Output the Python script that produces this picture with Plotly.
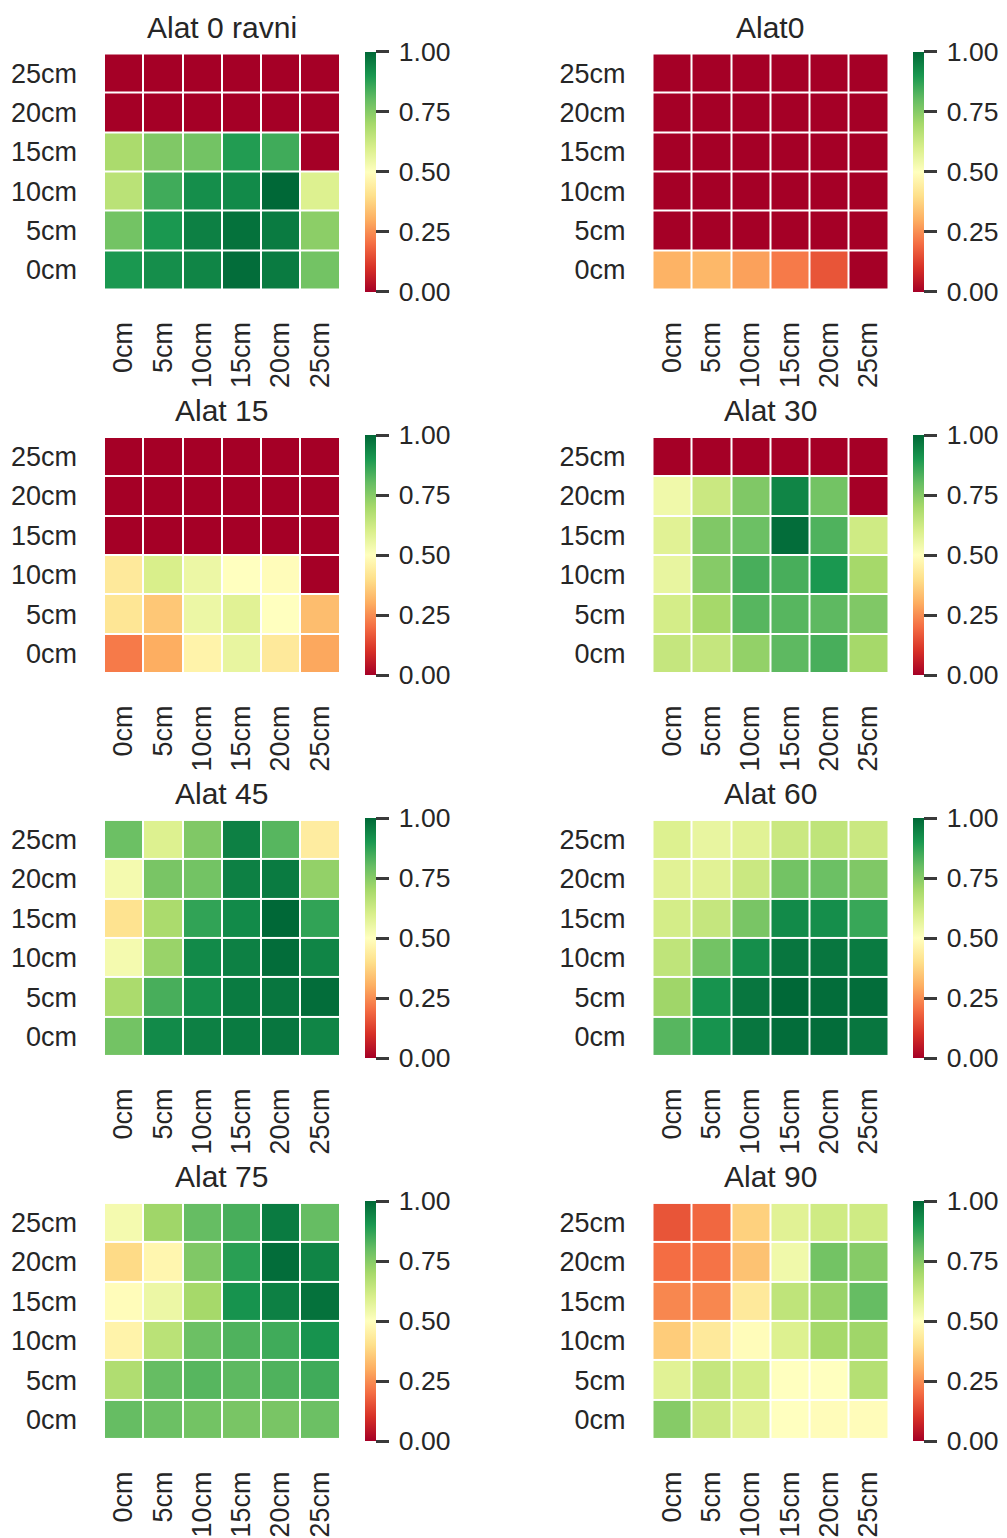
import plotly.graph_objects as go

# the page body keeps its 8px margin, so the figure is drawn 8px smaller
# and every pixel position below is shifted by it
OFF = 8
W, H = 1007 - OFF, 1538 - OFF

depths = ["0cm", "5cm", "10cm", "15cm", "20cm", "25cm"]

# rows follow depths (0cm first), columns follow depths too
alat_0_ravni = [
    [0.90, 0.92, 0.94, 0.99, 0.96, 0.78],
    [0.78, 0.90, 0.95, 0.98, 0.96, 0.74],
    [0.66, 0.85, 0.92, 0.93, 1.00, 0.59],
    [0.69, 0.76, 0.78, 0.89, 0.85, 0.00],
    [0.00, 0.00, 0.00, 0.00, 0.00, 0.00],
    [0.00, 0.00, 0.00, 0.00, 0.00, 0.00],
]
alat0 = [
    [0.31, 0.32, 0.28, 0.22, 0.16, 0.00],
    [0.00, 0.00, 0.00, 0.00, 0.00, 0.00],
    [0.00, 0.00, 0.00, 0.00, 0.00, 0.00],
    [0.00, 0.00, 0.00, 0.00, 0.00, 0.00],
    [0.00, 0.00, 0.00, 0.00, 0.00, 0.00],
    [0.00, 0.00, 0.00, 0.00, 0.00, 0.00],
]
alat_15 = [
    [0.22, 0.30, 0.46, 0.56, 0.43, 0.29],
    [0.42, 0.35, 0.55, 0.58, 0.50, 0.33],
    [0.43, 0.60, 0.55, 0.50, 0.49, 0.00],
    [0.00, 0.00, 0.00, 0.00, 0.00, 0.00],
    [0.00, 0.00, 0.00, 0.00, 0.00, 0.00],
    [0.00, 0.00, 0.00, 0.00, 0.00, 0.00],
]
alat_30 = [
    [0.64, 0.64, 0.73, 0.81, 0.84, 0.70],
    [0.61, 0.70, 0.82, 0.82, 0.81, 0.76],
    [0.56, 0.75, 0.84, 0.84, 0.90, 0.70],
    [0.58, 0.76, 0.79, 0.99, 0.83, 0.62],
    [0.54, 0.63, 0.76, 0.94, 0.78, 0.00],
    [0.00, 0.00, 0.00, 0.00, 0.00, 0.00],
]
alat_45 = [
    [0.78, 0.93, 0.95, 0.96, 0.97, 0.94],
    [0.69, 0.84, 0.92, 0.96, 0.97, 0.99],
    [0.53, 0.72, 0.93, 0.95, 0.99, 0.94],
    [0.41, 0.69, 0.87, 0.93, 1.00, 0.87],
    [0.53, 0.77, 0.78, 0.95, 0.96, 0.73],
    [0.79, 0.59, 0.76, 0.95, 0.82, 0.44],
]
alat_60 = [
    [0.82, 0.91, 0.97, 0.99, 0.99, 0.97],
    [0.71, 0.91, 0.97, 1.00, 0.99, 0.99],
    [0.65, 0.78, 0.92, 0.97, 0.97, 0.96],
    [0.61, 0.64, 0.77, 0.93, 0.92, 0.86],
    [0.58, 0.58, 0.63, 0.78, 0.79, 0.76],
    [0.59, 0.56, 0.58, 0.63, 0.65, 0.63],
]
alat_75 = [
    [0.80, 0.79, 0.78, 0.77, 0.77, 0.79],
    [0.68, 0.80, 0.82, 0.81, 0.83, 0.85],
    [0.46, 0.66, 0.79, 0.83, 0.85, 0.91],
    [0.49, 0.55, 0.70, 0.91, 0.95, 0.98],
    [0.39, 0.47, 0.76, 0.88, 0.99, 0.94],
    [0.53, 0.71, 0.80, 0.84, 0.96, 0.80],
]
alat_90 = [
    [0.75, 0.63, 0.58, 0.50, 0.49, 0.49],
    [0.58, 0.64, 0.61, 0.50, 0.50, 0.67],
    [0.36, 0.43, 0.49, 0.59, 0.70, 0.71],
    [0.24, 0.24, 0.43, 0.65, 0.72, 0.80],
    [0.20, 0.21, 0.34, 0.54, 0.78, 0.75],
    [0.16, 0.19, 0.37, 0.58, 0.62, 0.62],
]

titles = ["Alat 0 ravni", "Alat0", "Alat 15", "Alat 30",
          "Alat 45", "Alat 60", "Alat 75", "Alat 90"]
panels = [alat_0_ravni, alat0, alat_15, alat_30, alat_45, alat_60, alat_75, alat_90]
cbar_ticks = [0, 0.25, 0.5, 0.75, 1.0]

RDYLGN = ["#a50026", "#d73027", "#f46d43", "#fdae61", "#fee08b", "#ffffbf",
          "#d9ef8b", "#a6d96a", "#66bd63", "#1a9850", "#006837"]
_SCALE = [[i / 10, c] for i, c in enumerate(RDYLGN)]
_FONT = "Liberation Sans, Arial, sans-serif"
_TEXT = "#262626"
# invisible spacer: plotly trims plain whitespace off tick labels
_GAP = "<span style=\"color:rgba(0,0,0,0)\">'</span>"
cbar_text = [_GAP + f"{v:.2f}" for v in cbar_ticks]

# pixel geometry of the grid, in page pixels
_COL_LEFT = [104, 652.5]
_CELL_W = 235.5
_ROW_TOP = [53.5, 437.5, 821, 1204.5]
_CELL_H = 236.5
_CBAR_X = [365, 913]
_CBAR_LEN = 240


def px_x(v):
    return (v - OFF) / W


def px_y(v):
    return 1 - (v - OFF) / H


fig = go.Figure()
annotations = []

for i, (title, z) in enumerate(zip(titles, panels)):
    r, c = divmod(i, 2)
    n = i + 1
    xa = "x" if n == 1 else f"x{n}"
    ya = "y" if n == 1 else f"y{n}"
    left, top = _COL_LEFT[c], _ROW_TOP[r]

    fig.add_trace(go.Heatmap(
        z=z, x=depths, y=depths,
        xaxis=xa, yaxis=ya,
        colorscale=_SCALE, zmin=0, zmax=1,
        xgap=2, ygap=2,
        colorbar=dict(
            x=px_x(_CBAR_X[c]), xanchor="left", xpad=0,
            y=px_y(top + _CELL_H / 2), yanchor="middle", ypad=0,
            len=_CBAR_LEN, lenmode="pixels",
            thickness=11, outlinewidth=0,
            tickmode="array", tickvals=cbar_ticks, ticktext=cbar_text,
            ticks="outside", ticklen=13, tickwidth=2.5, tickcolor="#3a3a3a",
            tickfont=dict(family=_FONT, size=26.5, color=_TEXT),
        ),
        hovertemplate="%{x} / %{y}: %{z:.2f}<extra></extra>",
    ))

    fig.layout[xa.replace("x", "xaxis")] = dict(
        domain=[px_x(left), px_x(left + _CELL_W)],
        anchor=ya, type="category",
        tickangle=-90, ticks="", ticklabelstandoff=26,
        showgrid=False, zeroline=False, showline=False,
        tickfont=dict(family=_FONT, size=27, color=_TEXT),
    )
    fig.layout[ya.replace("y", "yaxis")] = dict(
        domain=[px_y(top + _CELL_H), px_y(top)],
        anchor=xa, type="category",
        ticks="", ticklabelstandoff=26,
        showgrid=False, zeroline=False, showline=False,
        tickfont=dict(family=_FONT, size=27, color=_TEXT),
    )

    annotations.append(dict(
        text=title, xref="paper", yref="paper",
        x=px_x(left + _CELL_W / 2), y=px_y(top - 26),
        xanchor="center", yanchor="middle", showarrow=False,
        font=dict(family=_FONT, size=30, color=_TEXT),
    ))

fig.update_layout(
    width=W, height=H,
    margin=dict(l=0, r=0, t=0, b=0),
    paper_bgcolor="white",
    plot_bgcolor="white",
    annotations=annotations,
    showlegend=False,
)

fig.write_html("out.html")
